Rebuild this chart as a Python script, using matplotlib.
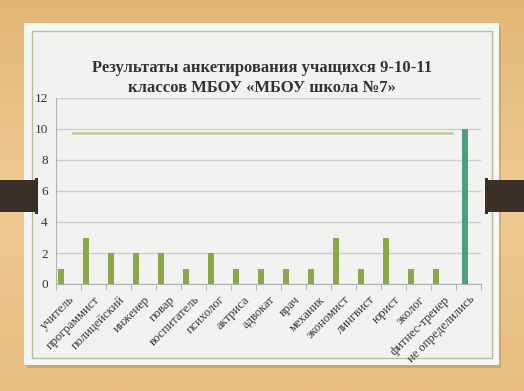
import matplotlib
matplotlib.use("Agg")
import matplotlib.pyplot as plt
from matplotlib.patches import Rectangle
import numpy as np

categories = ["учитель", "программист", "полицейский", "инженер", "повар",
              "воспитатель", "психолог", "актриса", "адвокат", "врач",
              "механик", "экономист", "лингвист", "юрист", "эколог",
              "фитнес-тренер", "не определились"]
values = [1, 3, 2, 2, 2, 1, 2, 1, 1, 1, 1, 3, 1, 3, 1, 1, 10]
yticks = [0, 2, 4, 6, 8, 10, 12]
title = "Результаты анкетирования учащихся 9-10-11\nклассов МБОУ «МБОУ школа №7»"
deco_line_value = 9.75

W, H = 524, 391
fig = plt.figure(figsize=(W / 100, H / 100), dpi=100)
fig.patch.set_facecolor("#e7bb7e")

# background layer (slide decoration)
bg = fig.add_axes([0, 0, 1, 1], zorder=-10)
bg.set_xlim(0, W)
bg.set_ylim(H, 0)
bg.axis("off")
grad = np.linspace(0, 1, 200).reshape(-1, 1)
bg.imshow(grad, extent=[0, W, H, 0], cmap=matplotlib.colors.LinearSegmentedColormap.from_list(
    "wood", ["#e3b676", "#eecb92", "#e8bd80"]), aspect="auto", zorder=0)
# shadow
bg.add_patch(Rectangle((27, 27), 474, 341, facecolor="#9c7a4a", alpha=0.35, edgecolor="none", zorder=1))
# slide panel
bg.add_patch(Rectangle((24, 23), 475, 342, facecolor="#f6f6f4", edgecolor="none", zorder=2))
bg.add_patch(Rectangle((32, 31), 460, 327, facecolor="#f2f2f1", edgecolor="#b3c093", lw=1.0, zorder=3))
# tabs
bg.add_patch(Rectangle((0, 180), 36, 32, facecolor="#3a3028", edgecolor="none", zorder=4))
bg.add_patch(Rectangle((35, 178), 3, 36, facecolor="#3a3028", edgecolor="none", zorder=4))
bg.add_patch(Rectangle((488, 180), 36, 32, facecolor="#3a3028", edgecolor="none", zorder=4))
bg.add_patch(Rectangle((485, 178), 3, 36, facecolor="#3a3028", edgecolor="none", zorder=4))

# chart axes
x0, x1 = 56, 481
y0, y1 = 98, 284
ax = fig.add_axes([x0 / W, 1 - y1 / H, (x1 - x0) / W, (y1 - y0) / H])
ax.set_facecolor("none")
n = len(categories)
x = np.arange(n)
ax.bar(x[:-1] - 0.3, values[:-1], width=0.23, color="#8da64a", zorder=3)
ax.bar(x[-1:] - 0.14, values[-1:], width=0.23, color="#4f9e7f", zorder=3)
ax.set_xlim(-0.5, n - 0.5)
ax.set_ylim(0, 12)
ax.set_yticks(yticks)
ax.set_yticklabels([str(v) for v in yticks], fontsize=9.5, family="Liberation Serif", color="#333333")
ax.yaxis.grid(True, color="#cccccc", lw=1.0, zorder=0)
ax.tick_params(axis="y", length=0, pad=6)
ax.set_xticks(np.arange(n + 1) - 0.5, minor=True)
ax.set_xticks(x)
ax.set_xticklabels(categories, rotation=45, ha="right", va="top", rotation_mode="anchor",
                   fontsize=9, family="Liberation Serif", color="#333333")
ax.tick_params(axis="x", which="major", length=0, pad=7)
ax.tick_params(axis="x", which="minor", length=4, color="#aaaaaa")
for s in ["top", "right"]:
    ax.spines[s].set_visible(False)
ax.spines["left"].set_color("#b0b0b0")
ax.spines["bottom"].set_color("#b0b0b0")

# decorative horizontal line
ax.axhline(deco_line_value, xmin=(73 - x0) / (x1 - x0), xmax=(452 - x0) / (x1 - x0),
           color="#bccb95", lw=1.8, zorder=2)

fig.text(262 / W, 1 - 78 / H, title, ha="center", va="center", fontsize=12,
         family="Liberation Serif", fontweight="bold", color="#333333", linespacing=1.25)

fig.savefig("out.png", dpi=100, facecolor=fig.get_facecolor())
